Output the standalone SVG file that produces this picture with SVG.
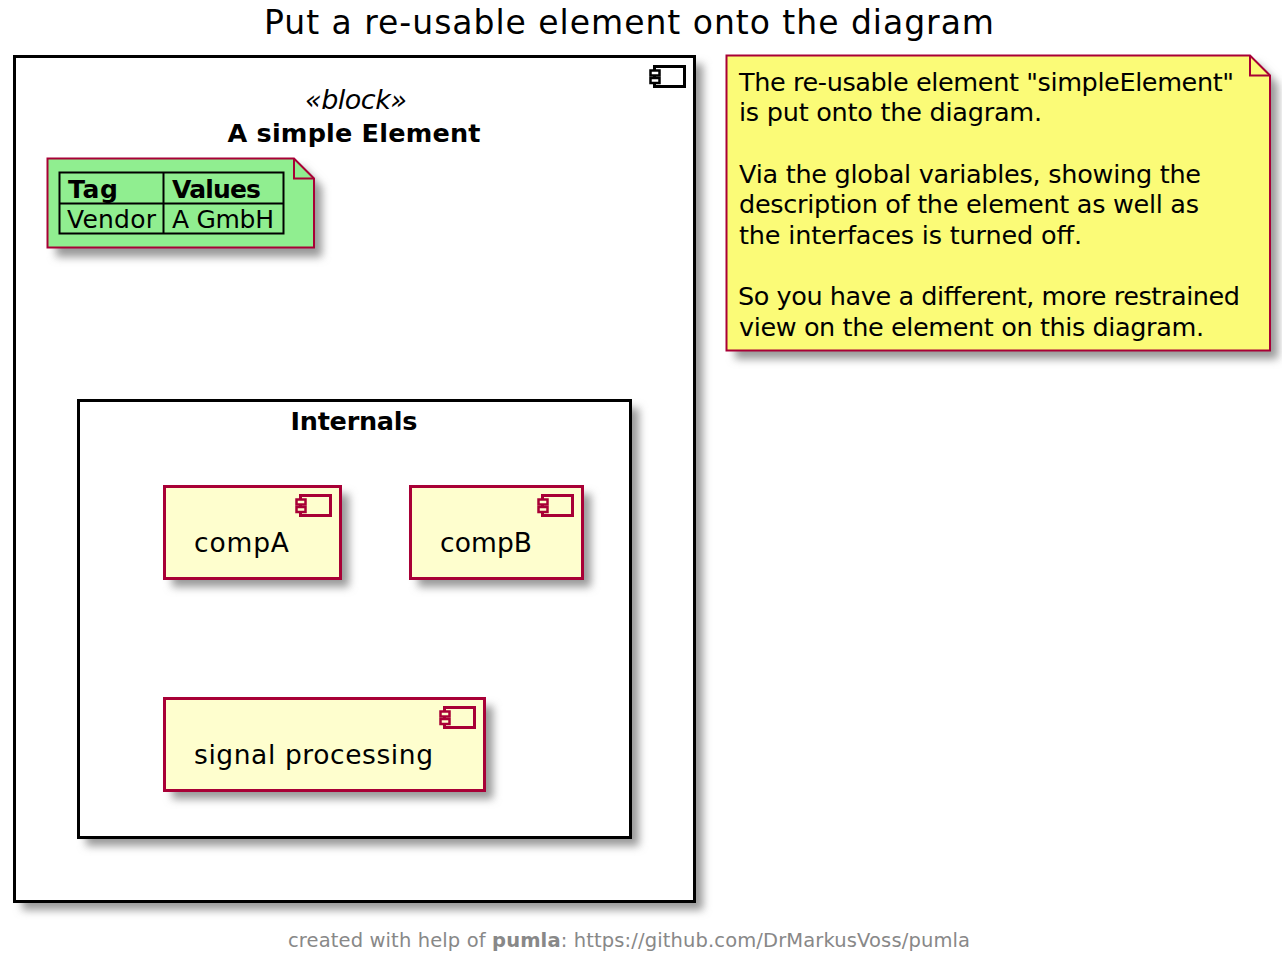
<svg xmlns="http://www.w3.org/2000/svg" width="1282" height="961" viewBox="0 0 1282 961">
<style>
text{font-family:"DejaVu Sans",Verdana,sans-serif;fill:#000}
.n{font-size:25.500px}
.c{font-size:26.500px}
.t{font-size:25px}
.b{font-weight:bold}
.blk{fill:#fff;stroke:#000;stroke-width:3}
.comp{fill:#FEFECE;stroke:#A80036;stroke-width:3}
.ic{fill:#FEFECE;stroke:#A80036;stroke-width:3}
.st{fill:#FEFECE;stroke:#A80036;stroke-width:2.500}
.ib{fill:#fff;stroke:#000;stroke-width:3}
.sb{fill:#fff;stroke:#000;stroke-width:2.500}
.note{stroke:#A80036;stroke-width:2}
.tb{fill:none;stroke:#000;stroke-width:2}
.sd{fill:#9a9a9a}
</style>
<defs>
<filter id="sh" x="-10%" y="-10%" width="125%" height="125%"><feGaussianBlur stdDeviation="4"/></filter>
</defs>
<rect width="1282" height="961" fill="#fff"/>
<text id="title" x="629" y="34" font-size="33" text-anchor="middle" textLength="730" lengthAdjust="spacing">Put a re-usable element onto the diagram</text>
<g id="simpleElement">
<rect x="22" y="64" width="681" height="846" class="sd" filter="url(#sh)"/>
<rect x="14.500" y="56.500" width="680" height="845" class="blk"/>
<rect x="654.500" y="66.500" width="30" height="20" class="ib"/>
<rect x="650.500" y="70.500" width="9" height="5" class="sb"/>
<rect x="650.500" y="78" width="9" height="5" class="sb"/>
<text x="356" y="109" font-size="27" font-style="italic" text-anchor="middle" textLength="102" lengthAdjust="spacing">«block»</text>
<text x="354" y="141.500" font-size="25.500" class="b" text-anchor="middle" textLength="253" lengthAdjust="spacing">A simple Element</text>
</g>
<g id="tagNote">
<path d="M56 167H302L322 187V257H56Z" class="sd" filter="url(#sh)"/>
<path d="M47.500 158.500H294L314 178.500V247.500H47.500Z" fill="#90EE90" class="note"/>
<path d="M294 158.500V178.500H314" fill="none" class="note"/>
<rect x="59.500" y="172.500" width="224" height="61" class="tb"/>
<path d="M163.500 172.500V233.500M59.500 203.500H283.500" class="tb"/>
<text x="68" y="197.500" class="t b" textLength="50" lengthAdjust="spacing">Tag</text>
<text x="172" y="197.500" class="t b" textLength="89" lengthAdjust="spacing">Values</text>
<text x="67" y="227.500" class="t" textLength="89" lengthAdjust="spacing">Vendor</text>
<text x="172" y="227.500" class="t" textLength="102" lengthAdjust="spacing">A GmbH</text>
</g>
<g id="internals">
<rect x="86" y="408" width="553" height="438" class="sd" filter="url(#sh)"/>
<rect x="78.500" y="400.500" width="552" height="437" class="blk"/>
<text x="354" y="429.500" font-size="25.500" class="b" text-anchor="middle" textLength="127" lengthAdjust="spacing">Internals</text>
</g>
<g id="compA">
<rect x="172" y="494" width="177" height="93" class="sd" filter="url(#sh)"/>
<rect x="164.500" y="486.500" width="176" height="92" class="comp"/>
<rect x="300.500" y="495.500" width="30" height="20" class="ic"/>
<rect x="296.500" y="499.500" width="9" height="5" class="st"/>
<rect x="296.500" y="507" width="9" height="5" class="st"/>
<text x="194" y="552" class="c" textLength="95" lengthAdjust="spacing">compA</text>
</g>
<g id="compB">
<rect x="418" y="494" width="173" height="93" class="sd" filter="url(#sh)"/>
<rect x="410.500" y="486.500" width="172" height="92" class="comp"/>
<rect x="542.500" y="495.500" width="30" height="20" class="ic"/>
<rect x="538.500" y="499.500" width="9" height="5" class="st"/>
<rect x="538.500" y="507" width="9" height="5" class="st"/>
<text x="440" y="552" class="c" textLength="92" lengthAdjust="spacing">compB</text>
</g>
<g id="signalProcessing">
<rect x="172" y="706" width="321" height="93" class="sd" filter="url(#sh)"/>
<rect x="164.500" y="698.500" width="320" height="92" class="comp"/>
<rect x="444.500" y="707.500" width="30" height="20" class="ic"/>
<rect x="440.500" y="711.500" width="9" height="5" class="st"/>
<rect x="440.500" y="719" width="9" height="5" class="st"/>
<text x="194" y="764" class="c" textLength="239" lengthAdjust="spacing">signal processing</text>
</g>
<g id="descriptionNote">
<path d="M735 64H1258L1278 84V359H735Z" class="sd" filter="url(#sh)"/>
<path d="M726.500 55.500H1250L1270 75.500V350.500H726.500Z" fill="#FBFB77" class="note"/>
<path d="M1250 55.500V75.500H1270" fill="none" class="note"/>
<text x="739" y="90.500" class="n" textLength="495" lengthAdjust="spacing">The re-usable element "simpleElement"</text>
<text x="739" y="120.500" class="n" textLength="303" lengthAdjust="spacing">is put onto the diagram.</text>
<text x="739" y="182.500" class="n" textLength="462" lengthAdjust="spacing">Via the global variables, showing the</text>
<text x="739" y="212.500" class="n" textLength="460" lengthAdjust="spacing">description of the element as well as</text>
<text x="739" y="243.500" class="n" textLength="343" lengthAdjust="spacing">the interfaces is turned off.</text>
<text x="738" y="304.500" class="n" textLength="502" lengthAdjust="spacing">So you have a different, more restrained</text>
<text x="739" y="335.500" class="n" textLength="465" lengthAdjust="spacing">view on the element on this diagram.</text>
</g>
<text id="footer" x="288" y="947" font-size="19.500" style="fill:#888" textLength="682" lengthAdjust="spacing">created with help of <tspan font-weight="bold">pumla</tspan>: https://github.com/DrMarkusVoss/pumla</text>
</svg>
